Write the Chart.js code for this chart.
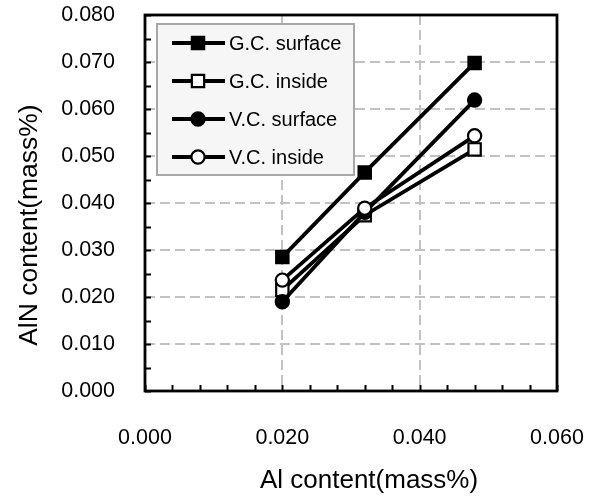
<!DOCTYPE html>
<html>
<head>
<meta charset="utf-8">
<script src="https://cdn.jsdelivr.net/npm/chart.js@4/dist/chart.umd.min.js"></script>
<style>
  html, body { margin: 0; padding: 0; background: #fff; }
  #wrap { width: 591px; height: 501px; }
</style>
</head>
<body>
<div id="wrap"><canvas id="chart" width="591" height="501"></canvas></div>
<script>
// Al content (x) and AlN content (y), mass%
const alContent = [0.020, 0.032, 0.048];
const gcSurface = [0.0285, 0.0465, 0.0698];
const gcInside = [0.0215, 0.0374, 0.0514];
const vcSurface = [0.0190, 0.0380, 0.0619];
const vcInside = [0.0236, 0.0389, 0.0543];
const seriesNames = ['G.C. surface', 'G.C. inside', 'V.C. surface', 'V.C. inside'];

const FONT = '"Liberation Sans", Arial, Helvetica, sans-serif';

const isMajor = (v, step) => Math.abs(v / step - Math.round(v / step)) < 1e-6;

function series(name, values, style, filled, order) {
  return {
    label: name,
    data: alContent.map((x, i) => ({ x: x, y: values[i] })),
    borderColor: '#000',
    borderWidth: 3.8,
    pointStyle: style,
    pointRadius: style === 'rect' ? 8.7 : 6.6,
    pointBorderWidth: 2.2,
    pointBackgroundColor: filled ? '#000' : '#fff',
    pointBorderColor: '#000',
    order: order,
    fill: false,
    tension: 0
  };
}

const datasets = [
  series(seriesNames[0], gcSurface, 'rect', true, 4),
  series(seriesNames[1], gcInside, 'rect', false, 3),
  series(seriesNames[2], vcSurface, 'circle', true, 2),
  series(seriesNames[3], vcInside, 'circle', false, 1)
];

// no extra label padding; the layout padding places the plot box
function noPad(s) {
  s.paddingTop = 0;
  s.paddingBottom = 0;
  s.paddingLeft = 0;
  s.paddingRight = 0;
}

// frame, inward tick marks and the boxed legend
const framePlugin = {
  id: 'frame',
  afterDatasetsDraw(chart) {
    const ctx = chart.ctx;
    const a = chart.chartArea;
    const xs = chart.scales.x, ys = chart.scales.y;
    ctx.save();
    ctx.strokeStyle = '#000';
    ctx.lineWidth = 2;
    ctx.beginPath();
    xs.ticks.forEach(t => {
      const px = Math.round(xs.getPixelForValue(t.value)) + 0.5;
      ctx.moveTo(px, a.bottom);
      ctx.lineTo(px, a.bottom - 6);
    });
    ys.ticks.forEach(t => {
      const py = Math.round(ys.getPixelForValue(t.value)) + 0.5;
      ctx.moveTo(a.left, py);
      ctx.lineTo(a.left + 6, py);
    });
    ctx.stroke();
    ctx.lineWidth = 2.8;
    ctx.strokeRect(a.left, a.top, a.right - a.left, a.bottom - a.top);

    // legend
    const box = { x: 157, y: 24, w: 197, h: 151 };
    ctx.fillStyle = '#f6f6f6';
    ctx.fillRect(box.x, box.y, box.w, box.h);
    ctx.strokeStyle = '#a8a8a8';
    ctx.lineWidth = 2;
    ctx.strokeRect(box.x, box.y, box.w, box.h);
    ctx.font = '20px ' + FONT;
    ctx.textBaseline = 'middle';
    datasets.forEach((ds, i) => {
      const cy = 43 + i * 38;
      ctx.strokeStyle = '#000';
      ctx.lineWidth = 3.8;
      ctx.beginPath();
      ctx.moveTo(172, cy);
      ctx.lineTo(225, cy);
      ctx.stroke();
      ctx.fillStyle = ds.pointBackgroundColor;
      ctx.strokeStyle = '#000';
      ctx.lineWidth = ds.pointBorderWidth;
      Chart.helpers.drawPoint(ctx, {
        pointStyle: ds.pointStyle,
        radius: ds.pointRadius,
        rotation: 0,
        borderWidth: ds.pointBorderWidth
      }, 198, cy);
      ctx.fillStyle = '#000';
      ctx.fillText(ds.label, 229, cy + 1);
    });
    ctx.restore();
  }
};

new Chart(document.getElementById('chart'), {
  type: 'line',
  data: { datasets: datasets },
  plugins: [framePlugin],
  options: {
    responsive: false,
    animation: false,
    layout: { padding: { top: 15, right: 34, left: 0, bottom: 0 } },
    plugins: {
      legend: { display: false },
      tooltip: { enabled: false }
    },
    scales: {
      x: {
        type: 'linear',
        min: 0,
        max: 0.06,
        afterFit: s => { s.height = 110; noPad(s); },
        ticks: {
          stepSize: 0.004,
          autoSkip: false,
          maxRotation: 0,
          padding: 34,
          color: '#000',
          font: { family: FONT, size: 21.5 },
          callback: v => isMajor(v, 0.02) ? v.toFixed(3) : ''
        },
        grid: {
          drawTicks: false,
          lineWidth: 2,
          color: c => (c.tick && isMajor(c.tick.value, 0.02) && c.tick.value > 0 && c.tick.value < 0.06) ? '#c2c2c2' : 'rgba(0,0,0,0)'
        },
        border: { display: false, dash: [10, 5] },
        title: {
          display: true,
          text: '\u00a0\u00a0\u00a0\u00a0\u00a0Al content(mass%)',
          color: '#000',
          font: { family: FONT, size: 26 },
          padding: { top: 0, bottom: 5 }
        }
      },
      y: {
        type: 'linear',
        min: 0,
        max: 0.08,
        afterFit: s => { s.width = 145; noPad(s); },
        ticks: {
          stepSize: 0.005,
          autoSkip: false,
          padding: 30,
          color: '#000',
          font: { family: FONT, size: 21.5 },
          callback: v => isMajor(v, 0.01) ? v.toFixed(3) : ''
        },
        grid: {
          drawTicks: false,
          lineWidth: 2,
          color: c => (c.tick && isMajor(c.tick.value, 0.01) && c.tick.value > 0 && c.tick.value < 0.08) ? '#c2c2c2' : 'rgba(0,0,0,0)'
        },
        border: { display: false, dash: [10, 5] },
        title: {
          display: true,
          text: 'AlN content(mass%)\u00a0\u00a0\u00a0\u00a0\u00a0\u00a0',
          color: '#000',
          font: { family: FONT, size: 26.5 },
          padding: { top: 14, bottom: 0 }
        }
      }
    }
  }
});
</script>
</body>
</html>
